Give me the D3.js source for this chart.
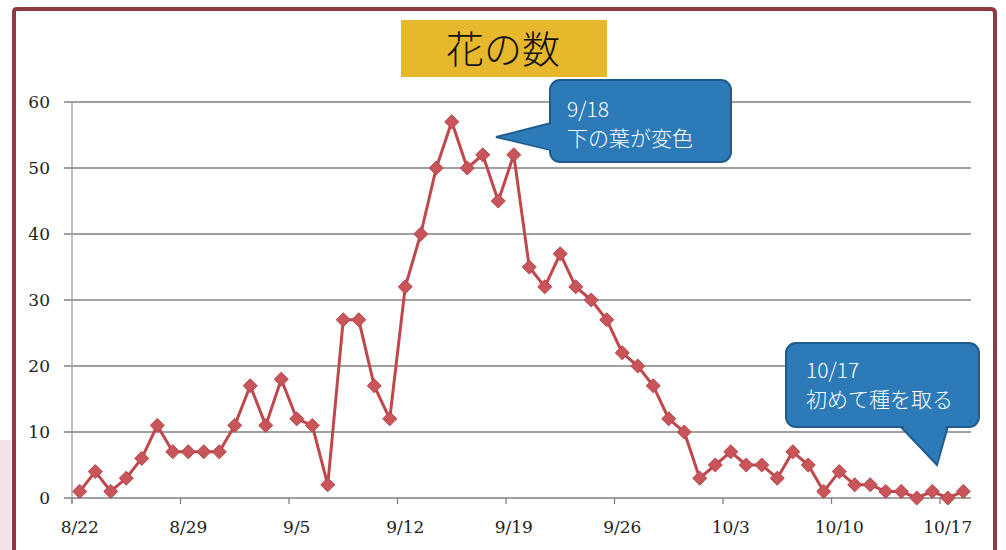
<!DOCTYPE html>
<html><head><meta charset="utf-8">
<script src="https://cdn.jsdelivr.net/npm/d3@7"></script>
<style>body{margin:0;background:#fff;}svg{display:block;}</style>
</head><body>
<svg id="c" width="1006" height="550"></svg>
<script>
const dates = ["8/22","8/23","8/24","8/25","8/26","8/27","8/28","8/29","8/30","8/31",
"9/1","9/2","9/3","9/4","9/5","9/6","9/7","9/8","9/9","9/10","9/11","9/12","9/13","9/14","9/15","9/16","9/17","9/18","9/19","9/20",
"9/21","9/22","9/23","9/24","9/25","9/26","9/27","9/28","9/29","9/30",
"10/1","10/2","10/3","10/4","10/5","10/6","10/7","10/8","10/9","10/10","10/11","10/12","10/13","10/14","10/15","10/16","10/17","10/18"];
const flowers = [1,4,1,3,6,11,7,7,7,7,
11,17,11,18,12,11,2,27,27,17,12,32,40,50,57,50,52,45,52,35,
32,37,32,30,27,22,20,17,12,10,
3,5,7,5,5,3,7,5,1,4,2,2,1,1,0,1,0,1];
const xTickLabels = ["8/22","8/29","9/5","9/12","9/19","9/26","10/3","10/10","10/17"];
const yTicks = [0,10,20,30,40,50,60];
const title = "花の数";
const callout1 = ["9/18","下の葉が変色"];
const callout2 = ["10/17","初めて種を取る"];

const svg = d3.select("#c");
const x = d3.scaleBand().domain(dates).range([72, 971]).padding(0);
const y = d3.scaleLinear().domain([0, 60]).range([498, 102]);

svg.append("rect").attr("x",0).attr("y",440).attr("width",11).attr("height",110).attr("fill","#f3e3e8");

svg.append("path")
  .attr("d","M14,552 L14,12 Q14,9 17,9 L991,9 Q995,9 995,13 L995,552")
  .attr("fill","none").attr("stroke","#8e3a40").attr("stroke-width",4);

svg.append("g").selectAll("line").data(yTicks).join("line")
  .attr("x1",64).attr("x2",971)
  .attr("y1",d=>y(d)).attr("y2",d=>y(d))
  .attr("stroke","#808080").attr("stroke-width",1.3);

svg.append("line").attr("x1",72).attr("x2",72).attr("y1",y(60)).attr("y2",503)
  .attr("stroke","#9a9a9a").attr("stroke-width",1.3);

svg.append("g").selectAll("text").data(yTicks).join("text")
  .attr("x",50).attr("y",d=>y(d)+6)
  .attr("text-anchor","end")
  .attr("font-family","DejaVu Serif, serif").attr("font-size",17).attr("fill","#222")
  .text(d=>d);

svg.append("g").selectAll("line").data(xTickLabels).join("line")
  .attr("x1",d=>x(d)).attr("x2",d=>x(d))
  .attr("y1",498).attr("y2",504)
  .attr("stroke","#808080").attr("stroke-width",1.3);

svg.append("g").selectAll("text").data(xTickLabels).join("text")
  .attr("x",d=>x(d)+x.bandwidth()/2).attr("y",533)
  .attr("text-anchor","middle")
  .attr("font-family","DejaVu Serif, serif").attr("font-size",17).attr("fill","#222")
  .text(d=>d);

const pts = dates.map((d,i)=>({d, v:flowers[i]}));
const line = d3.line().x(p=>x(p.d)+x.bandwidth()/2).y(p=>y(p.v));
svg.append("path").datum(pts).attr("d",line)
  .attr("fill","none").attr("stroke","#c0474c").attr("stroke-width",3).attr("stroke-linejoin","round");

svg.append("g").selectAll("path").data(pts).join("path")
  .attr("transform",p=>`translate(${x(p.d)+x.bandwidth()/2},${y(p.v)})`)
  .attr("d",d3.symbol().type(d3.symbolDiamond2).size(125))
  .attr("fill","#c8555a").attr("stroke","#b8444a").attr("stroke-width",1);

svg.append("rect").attr("x",401).attr("y",20).attr("width",206).attr("height",57).attr("fill","#e8b82c");
svg.append("text").attr("x",503).attr("y",63).attr("text-anchor","middle")
  .attr("font-family","Noto Sans CJK JP, sans-serif").attr("font-weight",300).attr("font-size",38).attr("fill","#111")
  .text(title);

function callout(rx, ry, rw, rh, tip, base, lines, tx, ty, lh){
  const g = svg.append("g");
  g.append("path").attr("d", base)
    .attr("fill","#2d7ab8").attr("stroke","#1f5b8d").attr("stroke-width",2);
  g.append("rect").attr("x",rx).attr("y",ry).attr("width",rw).attr("height",rh).attr("rx",10)
    .attr("fill","#2d7ab8").attr("stroke","#1f5b8d").attr("stroke-width",2);
  g.append("path").attr("d", tip).attr("fill","#2d7ab8");
  g.selectAll("text").data(lines).join("text")
    .attr("x",tx).attr("y",(d,i)=>ty+i*lh)
    .attr("font-family","Noto Sans CJK JP, sans-serif").attr("font-weight",300).attr("font-size",21).attr("fill","#fff")
    .text(d=>d);
}
callout(550,80,181,82,
  "M552,124 L552,150 L500,137 Z",
  "M551,123 L496,137 L551,150",
  callout1, 567, 117, 29);
callout(786,343,193,84,
  "M902,425 L946,425 L937,463 Z",
  "M900,426 L937,465 L948,426",
  callout2, 806, 378, 29);
</script>
</body></html>
